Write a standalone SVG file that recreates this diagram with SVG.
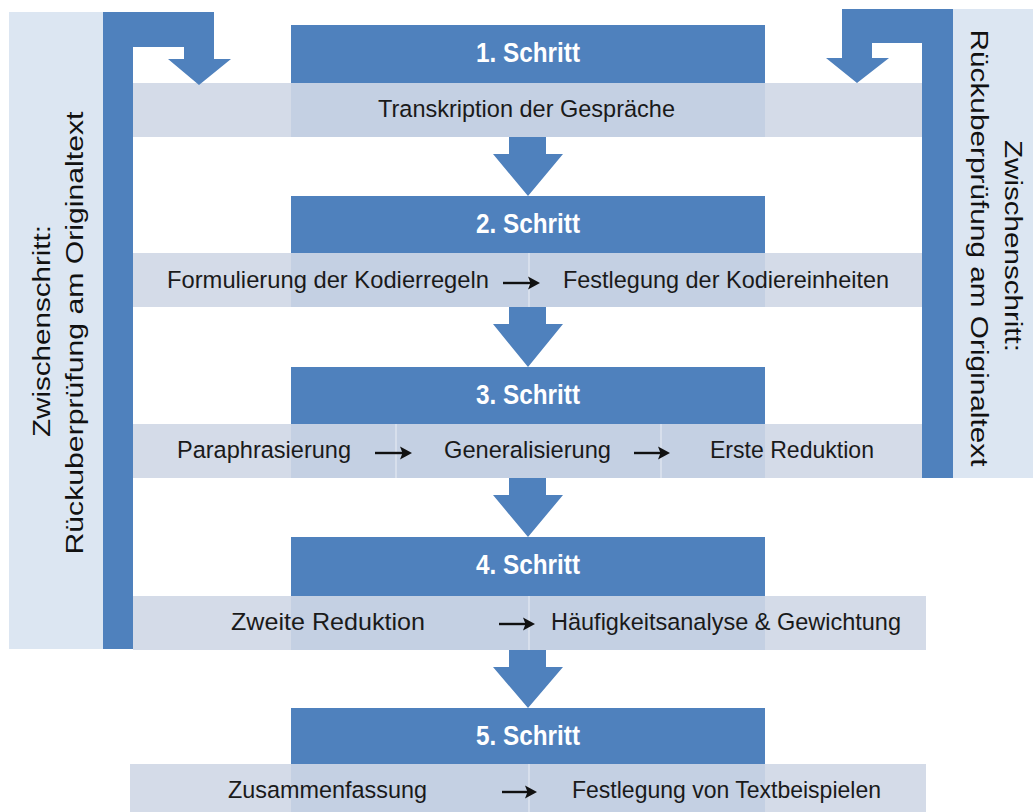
<svg xmlns="http://www.w3.org/2000/svg" width="1033" height="812" viewBox="0 0 1033 812">
<style>
.dark{fill:#4f81bd}
.side{fill:#dce6f2}
.band{fill:#d4dbe8}
.bandin{fill:#c4d0e3}
.div{stroke:#e4e9f2;stroke-width:1.2}
.t{font-family:"Liberation Sans",Arial,sans-serif;font-size:24.5px;fill:#1a1a1a}
.h{font-family:"Liberation Sans",Arial,sans-serif;font-size:27px;font-weight:bold;fill:#ffffff;text-anchor:middle}
.v{font-family:"Liberation Sans",Arial,sans-serif;font-size:23.5px;fill:#111111;text-anchor:middle}
.sa{stroke:#111;stroke-width:2.4;fill:none}
.sh{fill:#111}
</style>
<rect width="1033" height="812" fill="#ffffff"/>

<g id="left-panel">
<rect class="side" x="9" y="12" width="94" height="637"/>
<text class="v" transform="translate(50,331) rotate(-90)" textLength="212" lengthAdjust="spacingAndGlyphs">Zwischenschritt:</text>
<text class="v" transform="translate(83,333) rotate(-90)" textLength="443" lengthAdjust="spacingAndGlyphs">Rückuberprüfung am Originaltext</text>
</g>

<g id="right-panel">
<rect class="side" x="953" y="9" width="80" height="469"/>
<text class="v" transform="translate(1005,246) rotate(90)" textLength="212" lengthAdjust="spacingAndGlyphs">Zwischenschritt:</text>
<text class="v" transform="translate(971,248) rotate(90)" textLength="437" lengthAdjust="spacingAndGlyphs">Rückuberprüfung am Originaltext</text>
</g>

<g id="step1">
<rect class="dark" x="291" y="25" width="474" height="58"/>
<text class="h" x="528" y="62" textLength="104" lengthAdjust="spacingAndGlyphs">1. Schritt</text>
<rect class="band" x="133" y="83" width="789" height="54"/>
<rect class="bandin" x="291" y="83" width="474" height="54"/>
<text class="t" x="378" y="117" textLength="297" lengthAdjust="spacingAndGlyphs">Transkription der Gespräche</text>
</g>

<g id="step2">
<rect class="dark" x="291" y="196" width="474" height="57"/>
<text class="h" x="528" y="233" textLength="104" lengthAdjust="spacingAndGlyphs">2. Schritt</text>
<rect class="band" x="133" y="253" width="789" height="54"/>
<rect class="bandin" x="291" y="253" width="474" height="54"/>
<line class="div" x1="529" y1="253" x2="529" y2="307"/>
<text class="t" x="167" y="288" textLength="322" lengthAdjust="spacingAndGlyphs">Formulierung der Kodierregeln</text>
<text class="t" x="563" y="288" textLength="326" lengthAdjust="spacingAndGlyphs">Festlegung der Kodiereinheiten</text>
</g>

<g id="step3">
<rect class="dark" x="291" y="367" width="474" height="57"/>
<text class="h" x="528" y="404" textLength="104" lengthAdjust="spacingAndGlyphs">3. Schritt</text>
<rect class="band" x="133" y="424" width="789" height="54"/>
<rect class="bandin" x="291" y="424" width="474" height="54"/>
<line class="div" x1="396" y1="424" x2="396" y2="478"/>
<line class="div" x1="661" y1="424" x2="661" y2="478"/>
<text class="t" x="177" y="458" textLength="174" lengthAdjust="spacingAndGlyphs">Paraphrasierung</text>
<text class="t" x="444" y="458" textLength="167" lengthAdjust="spacingAndGlyphs">Generalisierung</text>
<text class="t" x="710" y="458" textLength="164" lengthAdjust="spacingAndGlyphs">Erste Reduktion</text>
</g>

<g id="step4">
<rect class="dark" x="291" y="537" width="474" height="59"/>
<text class="h" x="528" y="574" textLength="104" lengthAdjust="spacingAndGlyphs">4. Schritt</text>
<rect class="band" x="133" y="596" width="793" height="54"/>
<rect class="bandin" x="291" y="596" width="474" height="54"/>
<line class="div" x1="529" y1="596" x2="529" y2="650"/>
<text class="t" x="231" y="630" textLength="194" lengthAdjust="spacingAndGlyphs">Zweite Reduktion</text>
<text class="t" x="551" y="630" textLength="350" lengthAdjust="spacingAndGlyphs">Häufigkeitsanalyse &amp; Gewichtung</text>
</g>

<g id="step5">
<rect class="dark" x="291" y="708" width="474" height="56"/>
<text class="h" x="528" y="745" textLength="104" lengthAdjust="spacingAndGlyphs">5. Schritt</text>
<rect class="band" x="130" y="764" width="796" height="50"/>
<rect class="bandin" x="291" y="764" width="474" height="50"/>
<line class="div" x1="529" y1="764" x2="529" y2="812"/>
<text class="t" x="228" y="798" textLength="199" lengthAdjust="spacingAndGlyphs">Zusammenfassung</text>
<text class="t" x="572" y="798" textLength="309" lengthAdjust="spacingAndGlyphs">Festlegung von Textbeispielen</text>
</g>

<g id="connectors">
<polygon class="dark" points="103,12 214,12 214,59 231,59 199,85 168,59 184,59 184,47 133,47 133,649 103,649"/>
<polygon class="dark" points="953,9 953,478 922,478 922,43 872,43 872,58 889,58 857,83 826,58 842,58 842,9"/>
<polygon class="dark" points="509,137 546,137 546,154 563,154 528,196 493,154 509,154"/>
<polygon class="dark" points="509,307 546,307 546,324 563,324 528,367 493,324 509,324"/>
<polygon class="dark" points="509,478 546,478 546,495 563,495 528,537 493,495 509,495"/>
<polygon class="dark" points="509,650 546,650 546,667 563,667 528,708 493,667 509,667"/>
<g id="small-arrows">
<line class="sa" x1="503" y1="283" x2="534" y2="283"/><path class="sh" d="M540,283 L528,276.5 L530.5,283 L528,289.5 Z"/>
<line class="sa" x1="375" y1="453" x2="406" y2="453"/><path class="sh" d="M412,453 L400,446.5 L402.5,453 L400,459.5 Z"/>
<line class="sa" x1="634" y1="453" x2="664" y2="453"/><path class="sh" d="M670,453 L658,446.5 L660.5,453 L658,459.5 Z"/>
<line class="sa" x1="499" y1="624" x2="529" y2="624"/><path class="sh" d="M535,624 L523,617.5 L525.5,624 L523,630.5 Z"/>
<line class="sa" x1="502" y1="792" x2="531" y2="792"/><path class="sh" d="M537,792 L525,785.5 L527.5,792 L525,798.5 Z"/>
</g>
</g>
</svg>
